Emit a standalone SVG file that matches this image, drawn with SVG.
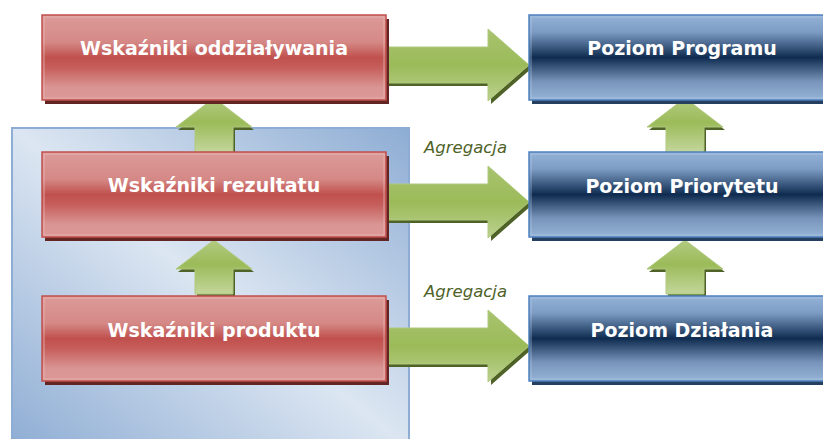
<svg xmlns="http://www.w3.org/2000/svg" width="823" height="439" viewBox="0 0 823 439">
  <defs>
    <linearGradient id="gPanel" x1="1" y1="0" x2="0" y2="1">
      <stop offset="0" stop-color="#8eadd4"/>
      <stop offset="0.5" stop-color="#dce6f2"/>
      <stop offset="1" stop-color="#8eadd4"/>
    </linearGradient>
    <linearGradient id="gRed" x1="0" y1="0" x2="0" y2="1">
      <stop offset="0" stop-color="#dc9b99"/>
      <stop offset="0.32" stop-color="#d58986"/>
      <stop offset="0.5" stop-color="#c0504d"/>
      <stop offset="0.62" stop-color="#c65e5b"/>
      <stop offset="0.85" stop-color="#d99593"/>
      <stop offset="1" stop-color="#db9896"/>
    </linearGradient>
    <linearGradient id="gBlue" x1="0" y1="0" x2="0" y2="1">
      <stop offset="0" stop-color="#95b3d7"/>
      <stop offset="0.2" stop-color="#7d9cc4"/>
      <stop offset="0.5" stop-color="#0f2c50"/>
      <stop offset="0.78" stop-color="#7894ba"/>
      <stop offset="1" stop-color="#95b3d7"/>
    </linearGradient>
    <linearGradient id="gArrowH" x1="0" y1="0" x2="0" y2="1">
      <stop offset="0" stop-color="#a8c36f"/>
      <stop offset="0.5" stop-color="#9bbb59"/>
      <stop offset="1" stop-color="#bcd190"/>
    </linearGradient>
    <linearGradient id="gArrowV" x1="0" y1="0" x2="0" y2="1">
      <stop offset="0" stop-color="#b3cb82"/>
      <stop offset="0.45" stop-color="#9bbb59"/>
      <stop offset="1" stop-color="#c3d69b"/>
    </linearGradient>
    <polygon id="arrowH" points="0,-18 102,-18 102,-36 143,0 102,36 102,18 0,18"/>
    <polygon id="arrowV" points="0,0 38,29 19,29 19,54 -19,54 -19,29 -38,29"/>
  </defs>
  <style>
    .redbox { fill: url(#gRed); stroke: #c0504d; stroke-width: 1.5; }
    .redinner { fill: none; stroke: #e9b5b4; stroke-width: 1; opacity: 0.8; }
    .redshadow { fill: #632523; }
    .bluebox { fill: url(#gBlue); stroke: #4f81bd; stroke-width: 1.5; }
    .blueinner { fill: none; stroke: #b8cce4; stroke-width: 1; opacity: 0.6; }
    .blueshadow { fill: #243f60; }
    .ah { fill: url(#gArrowH); stroke: #b0c97e; stroke-width: 1; }
    .av { fill: url(#gArrowV); stroke: #b0c97e; stroke-width: 1; }
    .ashadow { fill: #4f6228; }
    .label { font-family: "DejaVu Sans", Verdana, sans-serif; font-weight: bold; font-size: 19px; fill: #ffffff; text-anchor: middle; }
    .agg { font-family: "DejaVu Sans", Verdana, sans-serif; font-style: italic; font-size: 16.5px; fill: #4f6228; }
  </style>

  <g id="panel">
    <rect x="12" y="128" width="397" height="320" fill="url(#gPanel)" stroke="#8eadd4" stroke-width="2"/>
  </g>

  <g id="connectors">
    <use href="#arrowV" x="216" y="101" class="ashadow"/>
    <use href="#arrowV" x="214" y="98" class="av"/>
    <use href="#arrowV" x="216" y="243" class="ashadow"/>
    <use href="#arrowV" x="214" y="240" class="av"/>
    <use href="#arrowV" x="687" y="101" class="ashadow"/>
    <use href="#arrowV" x="685" y="98" class="av"/>
    <use href="#arrowV" x="687" y="243" class="ashadow"/>
    <use href="#arrowV" x="685" y="240" class="av"/>
    <use href="#arrowH" x="389" y="68" class="ashadow"/>
    <use href="#arrowH" x="386" y="65" class="ah"/>
    <use href="#arrowH" x="389" y="205" class="ashadow"/>
    <use href="#arrowH" x="386" y="202" class="ah"/>
    <use href="#arrowH" x="389" y="349" class="ashadow"/>
    <use href="#arrowH" x="386" y="346" class="ah"/>
    <text class="agg" x="424" y="153">Agregacja</text>
    <text class="agg" x="424" y="297">Agregacja</text>
  </g>

  <g id="wskazniki-oddzialywania">
    <rect class="redshadow" x="45" y="19" width="344" height="85"/>
    <rect class="redbox" x="42" y="15" width="344" height="85"/>
    <rect class="redinner" x="44" y="17" width="340" height="81"/>
    <text class="label" x="214" y="55">Wskaźniki oddziaływania</text>
  </g>
  <g id="wskazniki-rezultatu">
    <rect class="redshadow" x="45" y="156" width="344" height="85"/>
    <rect class="redbox" x="42" y="152" width="344" height="85"/>
    <rect class="redinner" x="44" y="154" width="340" height="81"/>
    <text class="label" x="214" y="192">Wskaźniki rezultatu</text>
  </g>
  <g id="wskazniki-produktu">
    <rect class="redshadow" x="45" y="300" width="344" height="85"/>
    <rect class="redbox" x="42" y="296" width="344" height="85"/>
    <rect class="redinner" x="44" y="298" width="340" height="81"/>
    <text class="label" x="214" y="337">Wskaźniki produktu</text>
  </g>

  <g id="poziom-programu">
    <rect class="blueshadow" x="532" y="19" width="312" height="85"/>
    <rect class="bluebox" x="529" y="15" width="312" height="85"/>
    <rect class="blueinner" x="531" y="17" width="308" height="81"/>
    <text class="label" x="682" y="55">Poziom Programu</text>
  </g>
  <g id="poziom-priorytetu">
    <rect class="blueshadow" x="532" y="156" width="312" height="85"/>
    <rect class="bluebox" x="529" y="152" width="312" height="85"/>
    <rect class="blueinner" x="531" y="154" width="308" height="81"/>
    <text class="label" x="682" y="193">Poziom Priorytetu</text>
  </g>
  <g id="poziom-dzialania">
    <rect class="blueshadow" x="532" y="300" width="312" height="85"/>
    <rect class="bluebox" x="529" y="296" width="312" height="85"/>
    <rect class="blueinner" x="531" y="298" width="308" height="81"/>
    <text class="label" x="682" y="337">Poziom Działania</text>
  </g>
</svg>
